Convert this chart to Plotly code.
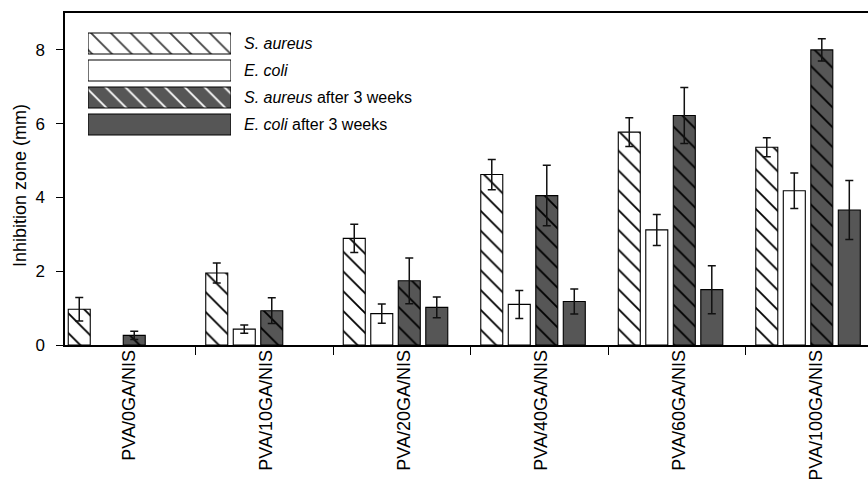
import plotly.graph_objects as go

# ---------------- data ----------------
categories = ["PVA/0GA/NIS", "PVA/10GA/NIS", "PVA/20GA/NIS",
              "PVA/40GA/NIS", "PVA/60GA/NIS", "PVA/100GA/NIS"]

s_aureus = [0.97, 1.95, 2.89, 4.62, 5.77, 5.36]
s_aureus_err = [0.32, 0.27, 0.38, 0.41, 0.39, 0.26]

e_coli = [None, 0.43, 0.85, 1.10, 3.12, 4.18]
e_coli_err = [None, 0.11, 0.26, 0.38, 0.42, 0.48]

s_aureus_3w = [0.26, 0.93, 1.74, 4.05, 6.22, 8.00]
s_aureus_3w_err = [0.11, 0.35, 0.62, 0.82, 0.76, 0.30]

e_coli_3w = [None, None, 1.02, 1.18, 1.50, 3.66]
e_coli_3w_err = [None, None, 0.28, 0.34, 0.65, 0.80]

series_names = ["<i>S. aureus</i>", "<i>E. coli</i>",
                "<i>S. aureus</i> after 3 weeks", "<i>E. coli</i> after 3 weeks"]

y_ticks = [0, 2, 4, 6, 8]

# ---------------- styles ----------------
DARK = "#565656"
FONT = "Liberation Sans, Arial, Helvetica, sans-serif"
styles = [
    dict(shape="\\", bg="white"),
    dict(shape="", bg="white"),
    dict(shape="\\", bg=DARK),
    dict(shape="", bg=DARK),
]
values = [s_aureus, e_coli, s_aureus_3w, e_coli_3w]
errors = [s_aureus_err, e_coli_err, s_aureus_3w_err, e_coli_3w_err]

xpos = list(range(len(categories)))
PAT_SIZE = 14
PAT_SOLID = 0.13

fig = go.Figure()
for name, vals, errs, st in zip(series_names, values, errors, styles):
    fig.add_trace(go.Bar(
        x=xpos, y=vals, name=name, showlegend=False,
        marker=dict(
            color=st["bg"],
            line=dict(color="black", width=1.1),
            pattern=dict(shape=st["shape"], fgcolor="black", bgcolor=st["bg"],
                         fgopacity=1, fillmode="overlay",
                         size=PAT_SIZE, solidity=PAT_SOLID),
        ),
        error_y=dict(type="data", array=errs, symmetric=True,
                     color="#111111", thickness=1.5, width=4),
    ))

# custom legend built from horizontal bars on an overlay axis
leg_rows = list(range(len(series_names)))
fig.add_trace(go.Bar(
    x=[1] * len(series_names), y=leg_rows, orientation="h",
    xaxis="x2", yaxis="y2", showlegend=False, hoverinfo="skip", width=0.78,
    marker=dict(
        color=[s["bg"] for s in styles],
        line=dict(color="black", width=1.1),
        pattern=dict(shape=[s["shape"] for s in styles], fgcolor="black",
                     bgcolor=[s["bg"] for s in styles], fgopacity=1,
                     fillmode="overlay", size=PAT_SIZE, solidity=PAT_SOLID),
    ),
))
for r, name in zip(leg_rows, series_names):
    fig.add_annotation(text=name, xref="paper", yref="y2", x=0.2204, y=r,
                       xanchor="left", yanchor="middle", showarrow=False,
                       font=dict(family=FONT, size=16, color="black"))

fig.add_annotation(text="Inhibition zone (mm)", xref="paper", yref="paper",
                   x=-0.0567, y=0.48, textangle=-90, showarrow=False,
                   xanchor="center", yanchor="middle",
                   font=dict(family=FONT, size=18, color="black"))

fig.update_layout(
    width=868, height=479,
    margin=dict(l=65, r=0, t=13, b=134),
    paper_bgcolor="white", plot_bgcolor="white",
    barmode="group", bargap=0.2, bargroupgap=0.2,
    font=dict(family=FONT, size=16, color="black"),
    xaxis=dict(
        range=[-0.4036, 5.436], showgrid=False, zeroline=False,
        showline=True, linecolor="black", linewidth=1.5, mirror=True,
        tickmode="array", tickvals=[i + 0.06 for i in xpos], ticktext=categories,
        tickangle=-90, ticks="", tickfont=dict(size=18), ticklabelstandoff=-4,
        minor=dict(tickmode="array", tickvals=[i + 0.547 for i in xpos[:-1]],
                   ticks="outside", ticklen=8, tickwidth=1.2, tickcolor="black"),
        automargin=False,
    ),
    yaxis=dict(
        range=[0, 9], showgrid=False, zeroline=False,
        showline=True, linecolor="black", linewidth=1.5,
        tickmode="array", tickvals=y_ticks, ticks="outside", ticklen=7,
        tickwidth=1.2, tickcolor="black", tickfont=dict(size=17),
        ticklabelstandoff=8, automargin=False,
    ),
    xaxis2=dict(domain=[0.02864, 0.20672], range=[0, 1], visible=False,
                anchor="y2", fixedrange=True),
    yaxis2=dict(domain=[0.6235, 0.9488], range=[3.5, -0.5], visible=False,
                anchor="x2", fixedrange=True),
)

fig.write_html(
    "out.html",
    config={"displayModeBar": False},
    post_script="document.body.style.margin='0';document.body.style.padding='0';"
                "document.body.style.overflow='hidden';",
)
